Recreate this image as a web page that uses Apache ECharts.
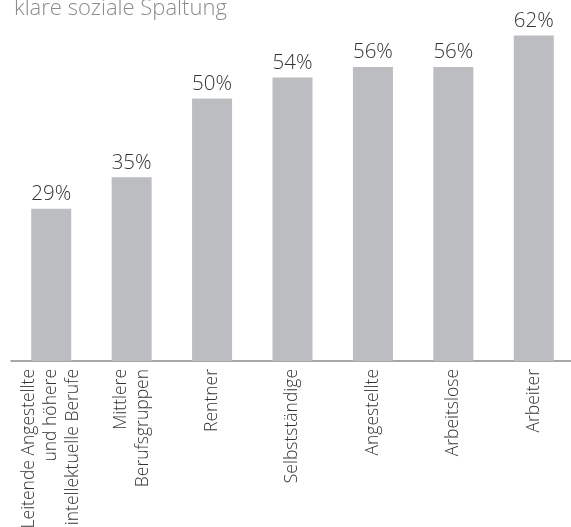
<!DOCTYPE html>
<html>
<head>
<meta charset="utf-8">
<style>
  html, body { margin: 0; padding: 0; background: #fff; }
  #chart { width: 571px; height: 527px; }
</style>
<script src="https://cdn.jsdelivr.net/npm/echarts@6/dist/echarts.min.js"></script>
</head>
<body>
<div id="chart"></div>
<script>
var categories = [
  'Leitende Angestellte\nund höhere\nintellektuelle Berufe',
  'Mittlere\nBerufsgruppen',
  'Rentner',
  'Selbstständige',
  'Angestellte',
  'Arbeitslose',
  'Arbeiter'
]
var values = [29, 35, 50, 54, 56, 56, 62]
var titleText = 'klare soziale Spaltung'

var chart = echarts.init(document.getElementById('chart'))
chart.setOption({
  backgroundColor: '#ffffff',
  animation: false,
  title: {
    text: titleText,
    left: 9,
    top: -7,
    textStyle: {
      color: '#8c8c8c',
      fontFamily: 'Open Sans',
      fontWeight: 300,
      fontSize: 22
    }
  },
  grid: {
    left: 11,
    width: 563,
    top: 25,
    height: 336,
    outerBoundsMode: 'none'
  },
  xAxis: {
    type: 'category',
    data: categories,
    axisLine: {
      lineStyle: { color: '#8a8a8a', width: 1.5 }
    },
    axisTick: { show: false },
    axisLabel: {
      interval: 0,
      rotate: 90,
      margin: 8,
      color: '#333',
      fontFamily: 'Open Sans',
      fontWeight: 300,
      fontSize: 17.5,
      lineHeight: 22
    }
  },
  yAxis: {
    type: 'value',
    min: 0,
    max: 64,
    show: false,
    splitLine: { show: false }
  },
  series: [{
    type: 'bar',
    data: values,
    barWidth: 40,
    itemStyle: { color: '#bcbdc1' },
    label: {
      show: true,
      position: 'top',
      distance: 4,
      formatter: '{c}%',
      color: '#333',
      fontFamily: 'Open Sans',
      fontWeight: 300,
      fontSize: 20.5
    }
  }]
})
</script>
</body>
</html>
